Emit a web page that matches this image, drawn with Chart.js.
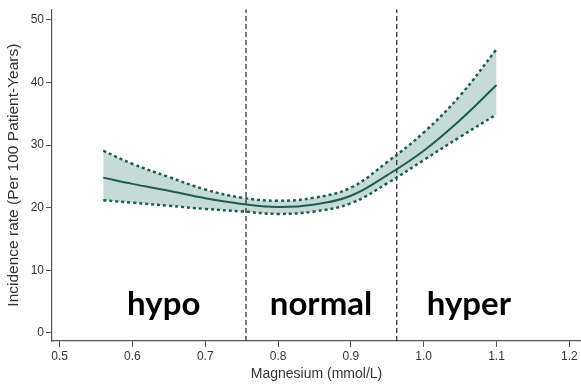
<!DOCTYPE html>
<html lang="en">
<head>
<meta charset="UTF-8">
<title>Incidence rate by magnesium</title>
<script src="https://cdn.jsdelivr.net/npm/chart.js@4.4.0/dist/chart.umd.min.js"></script>
<style>
    html, body { margin: 0; padding: 0; background: #fff; }
    #wrap { width: 581px; height: 387px; position: relative; }
</style>
</head>
<body>
<div id="wrap"><canvas id="chart"></canvas></div>
<script>
    // magnesium values (mmol/L) along the fitted curve
    const magnesium = [0.56, 0.60, 0.65, 0.70, 0.75, 0.80, 0.85, 0.90, 0.95, 1.00, 1.05, 1.10];
    const rate      = [24.8, 23.8, 22.7, 21.5, 20.6, 20.1, 20.5, 21.9, 25.2, 29.1, 34.0, 39.6];
    const upperCI   = [29.1, 27.0, 24.9, 22.9, 21.6, 21.1, 21.6, 23.2, 27.3, 32.0, 37.9, 45.3];
    const lowerCI   = [21.2, 20.8, 20.3, 19.8, 19.4, 19.0, 19.4, 20.7, 23.9, 27.6, 31.3, 34.9];

    const cutoffs = [0.756, 0.963];
    const zones = ['hypo', 'normal', 'hyper'];
    const zoneCenters = [0.643, 0.859, 1.062];

    const yTicks = [0, 10, 20, 30, 40, 50];
    const xTicks = [0.5, 0.6, 0.7, 0.8, 0.9, 1.0, 1.1, 1.2];

    const yMin = -1.3, yMax = 51.7;
    const green = '#1b5e50';
    const band = '#c6dbd7';

    const pts = arr => magnesium.map((m, i) => ({ x: m, y: arr[i] }));

    const cutoffSets = cutoffs.map(c => ({
        data: [{ x: c, y: yMin }, { x: c, y: yMax }],
        borderColor: '#222',
        borderWidth: 1.2,
        borderDash: [5, 3],
        pointRadius: 0,
        fill: false
    }));

    const zoneLabels = {
        id: 'zoneLabels',
        afterDatasetsDraw(chart) {
            const { ctx, scales } = chart;
            ctx.save();
            ctx.font = 'bold 33px Lato, sans-serif';
            ctx.fillStyle = '#000';
            ctx.textAlign = 'center';
            ctx.textBaseline = 'alphabetic';
            zones.forEach((z, i) => {
                ctx.fillText(z, scales.x.getPixelForValue(zoneCenters[i]), scales.y.getPixelForValue(2.8));
            });
            ctx.restore();
        }
    };

    const ctx = document.getElementById('chart').getContext('2d');
    const chart = new Chart(ctx, {
        type: 'line',
        data: {
            datasets: [
                {
                    data: pts(rate),
                    borderColor: green,
                    borderWidth: 2,
                    pointRadius: 0,
                    tension: 0.4,
                    fill: false
                },
                {
                    data: pts(upperCI),
                    borderColor: green,
                    borderWidth: 2.5,
                    borderDash: [3, 3],
                    borderCapStyle: 'butt',
                    backgroundColor: band,
                    pointRadius: 0,
                    tension: 0.4,
                    fill: '+1'
                },
                {
                    data: pts(lowerCI),
                    borderColor: green,
                    borderWidth: 2.5,
                    borderDash: [3, 3],
                    borderCapStyle: 'butt',
                    pointRadius: 0,
                    tension: 0.4,
                    fill: false
                },
                ...cutoffSets
            ]
        },
        options: {
            responsive: true,
            maintainAspectRatio: false,
            animation: false,
            layout: { padding: { top: 5, right: 0, left: 0, bottom: 0 } },
            plugins: {
                legend: { display: false },
                tooltip: { enabled: false },
                filler: { propagate: false, drawTime: 'beforeDatasetsDraw' }
            },
            scales: {
                x: {
                    type: 'linear',
                    min: 0.4896,
                    max: 1.216,
                    afterBuildTicks: s => { s.ticks = xTicks.map(v => ({ value: v })); },
                    afterFit: s => { s.height = 46; },
                    grid: { display: true, drawOnChartArea: false, tickLength: 6, color: '#555' },
                    border: { display: true, color: '#555', width: 1.2 },
                    ticks: {
                        color: '#333',
                        padding: 2,
                        maxRotation: 0,
                        font: { family: 'Liberation Sans, Arial, sans-serif', size: 12 },
                        callback: v => v.toFixed(1)
                    },
                    title: {
                        display: true,
                        text: 'Magnesium (mmol/L)',
                        color: '#333',
                        padding: { top: 1 },
                        font: { family: 'Liberation Sans, Arial, sans-serif', size: 14 }
                    }
                },
                y: {
                    min: yMin,
                    max: yMax,
                    afterBuildTicks: s => { s.ticks = yTicks.map(v => ({ value: v })); },
                    afterFit: s => { s.width = 52; },
                    grid: { display: true, drawOnChartArea: false, tickLength: 6, color: '#555' },
                    border: { display: true, color: '#555', width: 1.2 },
                    ticks: {
                        color: '#333',
                        padding: 2,
                        font: { family: 'Liberation Sans, Arial, sans-serif', size: 12 }
                    },
                    title: {
                        display: true,
                        text: 'Incidence rate (Per 100 Patient-Years)',
                        color: '#333',
                        padding: { top: 4, bottom: 0 },
                        font: { family: 'Liberation Sans, Arial, sans-serif', size: 15.5 }
                    }
                }
            }
        },
        plugins: [zoneLabels]
    });
</script>
</body>
</html>
